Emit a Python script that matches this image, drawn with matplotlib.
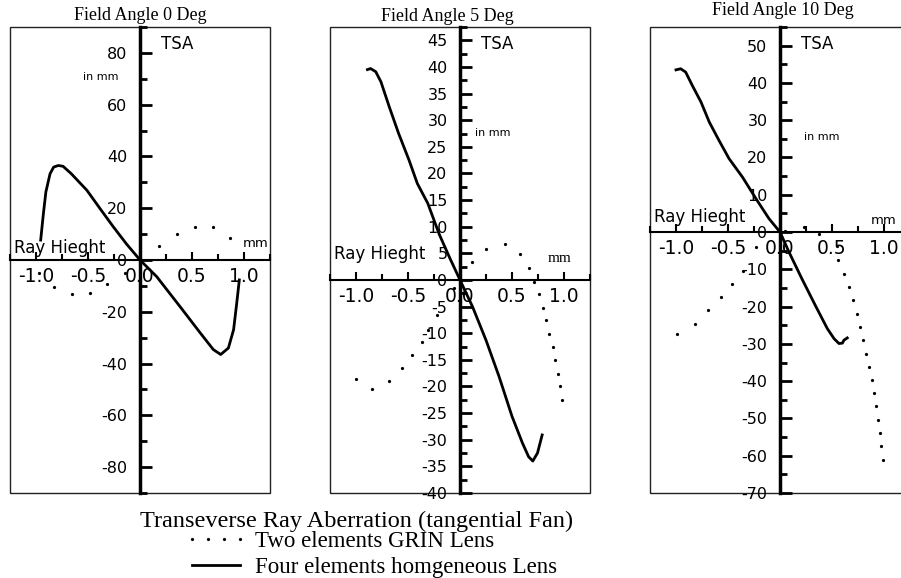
import matplotlib
matplotlib.use('Agg')
import matplotlib.pyplot as plt
from matplotlib.ticker import MultipleLocator, FormatStrFormatter
from matplotlib.patches import Rectangle
import matplotlib.transforms as mtransforms

plt.rcParams['font.family'] = 'DejaVu Sans'
plt.rcParams['axes.unicode_minus'] = False

titles = ['Field Angle 0 Deg', 'Field Angle 5 Deg', 'Field Angle 10 Deg']

# Four elements homgeneous Lens (solid)
x_four_0 = [-0.955, -0.93, -0.905, -0.865, -0.83, -0.785, -0.74, -0.66, -0.51, -0.385, -0.26, -0.13,
            0.0, 0.16, 0.385, 0.58, 0.705, 0.776, 0.85, 0.90, 0.93, 0.955]
y_four_0 = [7.7, 17.5, 26.3, 33.3, 35.9, 36.5, 36.2, 33.3, 26.9, 19.9, 13.0, 6.2,
            0.0, -6.4, -18.0, -28.2, -34.6, -36.5, -34.0, -26.9, -16.7, -7.7]
x_four_5 = [-0.89, -0.86, -0.81, -0.76, -0.68, -0.59, -0.49, -0.41, -0.31, -0.20, -0.10,
            0.0, 0.12, 0.25, 0.375, 0.50, 0.60, 0.66, 0.70, 0.745, 0.79]
y_four_5 = [39.5, 39.7, 39.1, 37.2, 32.5, 27.5, 22.5, 18.1, 14.4, 8.6, 4.2,
            0.0, -5.0, -11.3, -18.1, -25.6, -30.6, -33.2, -34.0, -32.5, -29.1]
x_four_10 = [-1.0, -0.955, -0.907, -0.843, -0.76, -0.68, -0.587, -0.49, -0.36, -0.23, -0.106,
             0.0, 0.087, 0.21, 0.34, 0.455, 0.52, 0.567, 0.60, 0.615, 0.647]
y_four_10 = [43.5, 43.8, 42.9, 39.3, 34.9, 29.5, 24.6, 19.7, 14.7, 8.9, 3.6,
             0.0, -5.4, -12.5, -19.7, -25.9, -28.6, -29.9, -29.8, -29.0, -28.4]

# Two elements GRIN Lens (dotted)
x_grin_0 = [-0.97, -0.83, -0.65, -0.48, -0.32, -0.14, 0.18, 0.36, 0.53, 0.70, 0.87]
y_grin_0 = [-5.0, -10.4, -13.1, -12.7, -9.2, -5.0, 5.4, 10.0, 12.7, 12.7, 8.5]
x_grin_5 = [-1.0, -0.85, -0.68, -0.56, -0.46, -0.37, -0.31, -0.22, -0.06,
            0.12, 0.25, 0.43, 0.58, 0.66, 0.71, 0.76, 0.80, 0.83, 0.86, 0.89, 0.91, 0.94, 0.96, 0.98]
y_grin_5 = [-18.6, -20.4, -19.0, -16.6, -14.1, -11.6, -9.3, -6.6, -1.6,
            3.4, 5.8, 6.8, 4.9, 2.3, -0.4, -2.6, -5.2, -7.6, -10.1, -12.6, -15.1, -17.6, -20.0, -22.5]
x_grin_10 = [-0.99, -0.82, -0.69, -0.57, -0.46, -0.36, -0.23,
             0.05, 0.23, 0.375, 0.55, 0.56, 0.615, 0.66, 0.70, 0.74, 0.77, 0.80, 0.83, 0.86,
             0.88, 0.90, 0.92, 0.94, 0.96, 0.97, 0.99]
y_grin_10 = [-27.3, -24.6, -21.0, -17.4, -13.9, -10.5, -4.0,
             0.3, 1.3, -0.5, -3.8, -7.6, -11.2, -14.7, -18.3, -21.9, -25.5, -29.0, -32.6, -36.2,
             -39.7, -43.2, -46.6, -50.4, -53.9, -57.4, -61.1]

four_x = [x_four_0, x_four_5, x_four_10]
four_y = [y_four_0, y_four_5, y_four_10]
grin_x = [x_grin_0, x_grin_5, x_grin_10]
grin_y = [y_grin_0, y_grin_5, y_grin_10]

ylims = [(-90, 90), (-40, 47.5), (-70, 55)]
ymajor = [20, 5, 10]

# layout (pixels of the 901x578 canvas)
lefts = [10, 330, 650]
title_x = [0.5, 0.45, 0.512]
title_pad = [5, 4.5, 8.6]
ray_y = [4.6, 4.9, 4.0]
mm_pos = [(0.99, 6.5), (0.84, 4.1), (0.875, 3.2)]
inmm_pos = [(-0.55, 0.893), (0.14, 0.773), (0.23, 0.764)]

fig = plt.figure(figsize=(9.01, 5.78), dpi=100)
W, H = 901, 578

handles = []
for i in range(3):
    ax = fig.add_axes([lefts[i] / W, 1 - 493 / H, 260 / W, 466 / H])
    ax.set_xlim(-1.25, 1.25)
    ax.set_ylim(*ylims[i])

    ax.spines['left'].set_position(('data', 0))
    ax.spines['left'].set_linewidth(2.5)
    ax.spines['bottom'].set_position(('data', 0))
    ax.spines['bottom'].set_linewidth(1.5)
    ax.spines['top'].set_visible(False)
    ax.spines['right'].set_visible(False)
    ax.add_patch(Rectangle((0, 0), 1, 1, transform=ax.transAxes, fill=False,
                           lw=1.0, ec='#222222', clip_on=False))

    ax.xaxis.set_major_locator(MultipleLocator(0.5))
    ax.xaxis.set_minor_locator(MultipleLocator(0.25))
    ax.xaxis.set_major_formatter(FormatStrFormatter('%.1f'))
    ax.yaxis.set_major_locator(MultipleLocator(ymajor[i]))
    ax.yaxis.set_minor_locator(MultipleLocator(ymajor[i] / 2))
    ax.yaxis.set_major_formatter(FormatStrFormatter('%d'))

    ax.tick_params(axis='x', which='both', direction='in', width=1.5, labelsize=13.5, pad=5)
    ax.tick_params(axis='x', which='major', length=6)
    ax.tick_params(axis='x', which='minor', length=4.5)
    ax.tick_params(axis='y', which='both', direction='in', width=2, labelsize=11.5, pad=9)
    ax.tick_params(axis='y', which='major', length=8.5)
    ax.tick_params(axis='y', which='minor', length=5)

    l_grin, = ax.plot(grin_x[i], grin_y[i], linestyle='none', marker='o', markersize=1.3,
                      color='black', label='Two elements GRIN Lens')
    l_four, = ax.plot(four_x[i], four_y[i], color='black', lw=2.0,
                      label='Four elements homgeneous Lens')
    if i == 0:
        handles = [l_grin, l_four]

    ax.set_title(titles[i], x=title_x[i], pad=title_pad[i], fontsize=13,
                 family='Liberation Serif')

    trans = mtransforms.blended_transform_factory(ax.transData, ax.transAxes)
    ax.text(0.2, 0.963, 'TSA', transform=trans, fontsize=12, va='center', ha='left')
    ax.text(inmm_pos[i][0], inmm_pos[i][1], 'in mm', transform=trans, fontsize=8,
            va='center', ha='left')
    ax.text(-1.21, ray_y[i], 'Ray Hieght', fontsize=12, va='center', ha='left')
    mm_family = 'Liberation Serif' if i == 1 else 'DejaVu Sans'
    mm_size = 11 if i == 1 else 9.5
    ax.text(mm_pos[i][0], mm_pos[i][1], 'mm', fontsize=mm_size, family=mm_family,
            va='center', ha='left')

fig.text(357 / W, 1 - 527 / H, 'Transeverse Ray Aberration (tangential Fan)',
         ha='center', va='baseline', fontsize=17.5, family='Liberation Serif')

fig.legend(handles=handles, labels=[h.get_label() for h in handles],
           loc='upper left', bbox_to_anchor=(185 / W, 1 - 531 / H),
           frameon=False, numpoints=4, handlelength=2.7,
           handletextpad=0.35, labelspacing=0.2, borderpad=0, borderaxespad=0,
           prop={'family': 'Liberation Serif', 'size': 16.5})

fig.savefig('out.png', dpi=100)
